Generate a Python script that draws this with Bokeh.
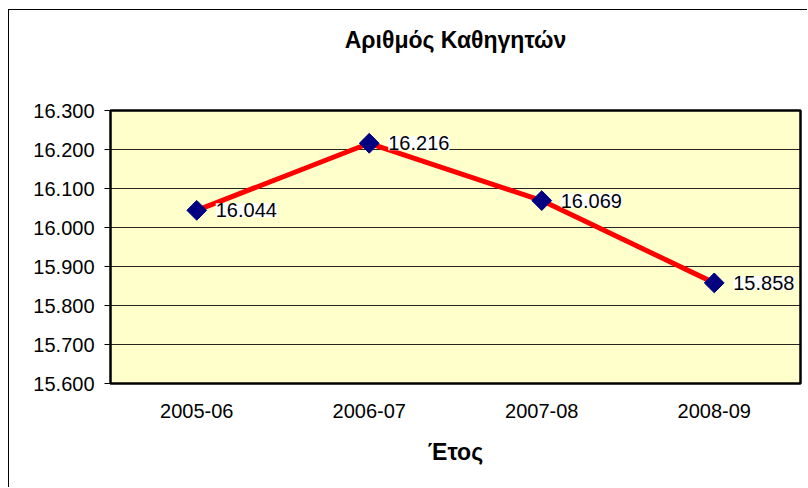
from bokeh.plotting import figure
from bokeh.models import (ColumnDataSource, LabelSet, CustomJSTickFormatter, FixedTicker,
                          CategoricalAxis, Range1d)
from bokeh.core.properties import value
from bokeh.embed import file_html
from bokeh.resources import INLINE
import math

# ---- data ----
years = ["2005-06", "2006-07", "2007-08", "2008-09"]
teachers = [16044, 16216, 16069, 15858]
y_ticks = [15600, 15700, 15800, 15900, 16000, 16100, 16200, 16300]
title_text = "Αριθμός Καθηγητών"
x_label = "Έτος"

labels = [f"{v:,}".replace(",", ".") for v in teachers]
src = ColumnDataSource(dict(x=years, y=teachers, lbl=labels))

FONT = "Liberation Sans"

p = figure(x_range=years, y_range=Range1d(y_ticks[0], y_ticks[-1]),
           width=799, height=478, output_backend="svg", toolbar_location=None,
           min_border_left=101, min_border_right=8, min_border_top=100, min_border_bottom=105)
p.margin = (9, 0, 0, 8)
p.styles = {"border-left": "1px solid black", "border-top": "1px solid black"}

p.background_fill_color = "#FFFFCC"
p.border_fill_color = "white"
p.outline_line_color = "black"
p.outline_line_width = 2.5

# bottom (category) axis
xa = p.below[0]
xa.axis_line_color = None
xa.major_tick_line_color = None
xa.minor_tick_line_color = None
xa.major_label_standoff = 14
xa.major_label_text_font = FONT
xa.major_label_text_font_size = "20px"
xa.major_label_text_color = "black"
xa.axis_label = x_label
xa.axis_label_text_font = FONT
xa.axis_label_text_font_style = "bold"
xa.axis_label_text_font_size = "23px"
xa.axis_label_text_color = "black"
xa.axis_label_standoff = 18

# title (as label of a blank axis above the frame)
top_axis = CategoricalAxis(axis_label=title_text)
top_axis.axis_line_color = None
top_axis.major_tick_line_color = None
top_axis.minor_tick_line_color = None
top_axis.major_label_text_font_size = "1px"
top_axis.major_label_text_alpha = 0
top_axis.major_label_standoff = 0
top_axis.axis_label_text_font = FONT
top_axis.axis_label_text_font_style = "bold"
top_axis.axis_label_text_font_size = "23px"
top_axis.axis_label_text_color = "black"
top_axis.axis_label_standoff = 52
p.add_layout(top_axis, "above")

# grid
p.xgrid.grid_line_color = None
p.ygrid.grid_line_color = "black"
p.ygrid.grid_line_width = 1
p.ygrid.grid_line_alpha = 0.85

# y axis
p.yaxis.ticker = FixedTicker(ticks=y_ticks)
p.yaxis.formatter = CustomJSTickFormatter(code="""
const s = Math.round(tick).toString();
return s.slice(0, -3) + '.' + s.slice(-3);
""")
p.yaxis.axis_line_color = None
p.yaxis.major_tick_line_color = "black"
p.yaxis.major_tick_out = 6
p.yaxis.major_tick_in = 0
p.yaxis.minor_tick_line_color = None
p.yaxis.major_label_standoff = 10
p.yaxis.major_label_text_font = FONT
p.yaxis.major_label_text_font_size = "20px"
p.yaxis.major_label_text_color = "black"

# series
p.line("x", "y", source=src, line_color="#FF0000", line_width=5)
p.scatter("x", "y", source=src, marker="square", size=14, angle=math.pi / 4,
          fill_color="#000080", line_color="#000080")

ls = LabelSet(x="x", y="y", text="lbl", source=src, x_offset=19, y_offset=0,
              text_baseline="middle", text_align="left",
              text_font=value(FONT), text_font_size="20px", text_color="black",
              background_fill_color="white")
p.add_layout(ls)

open("out.html", "w").write(file_html(p, INLINE))
